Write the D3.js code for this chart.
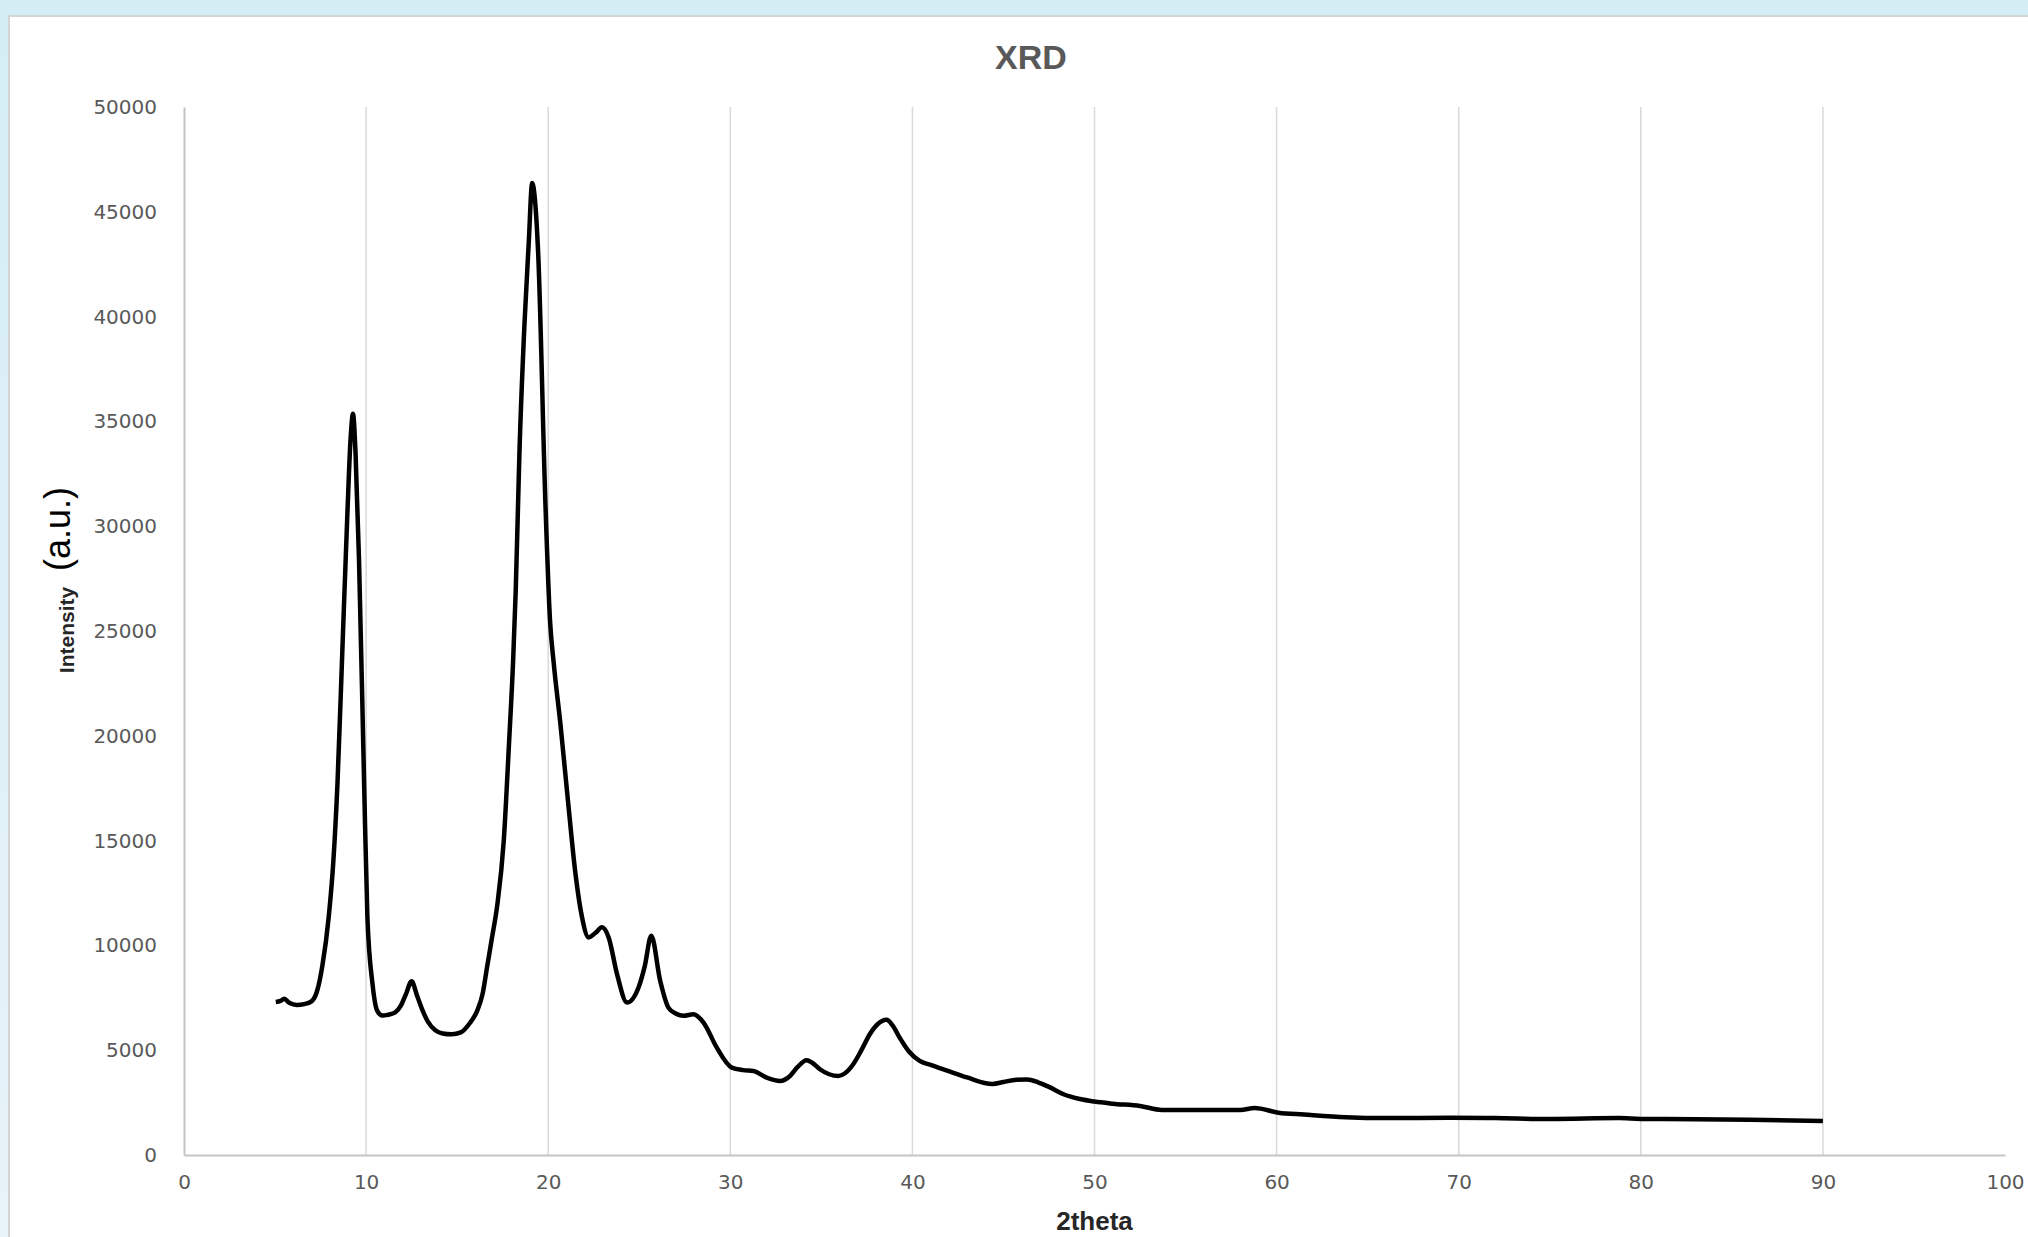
<!DOCTYPE html>
<html>
<head>
    <meta charset="utf-8">
    <title>XRD</title>
    <script src="https://cdn.jsdelivr.net/npm/d3@7"></script>
    <style>
        body { margin: 0; overflow: hidden; }
        #chart { display: block; }
    </style>
</head>
<body>
    <svg id="chart" width="2028" height="1237"></svg>

    <script>
        // values
        var chartTitle = "XRD";
        var xTitle = "2theta";
        var yTitle = "Intensity";
        var yUnit = "(a.u.)";

        var xTicks = [0, 10, 20, 30, 40, 50, 60, 70, 80, 90, 100];
        var yTicks = [0, 5000, 10000, 15000, 20000, 25000, 30000, 35000, 40000, 45000, 50000];
        var gridTicks = [10, 20, 30, 40, 50, 60, 70, 80, 90];

        var twoTheta = [5.04, 5.3, 5.5, 5.8, 6.2, 6.6, 7.0, 7.3, 7.6, 7.95,
            8.2, 8.43, 8.7, 8.97, 9.15, 9.28, 9.42, 9.61, 9.89, 10.07,
            10.35, 10.6, 10.9, 11.2, 11.6, 11.9, 12.2, 12.5, 12.8, 13.1,
            13.4, 13.8, 14.2, 14.7, 15.2, 15.7, 16.1, 16.4, 16.65, 16.9,
            17.2, 17.56, 17.84, 18.07, 18.22, 18.42, 18.7, 18.93, 19.12, 19.27,
            19.45, 19.85, 20.1, 20.3, 20.67, 21.12, 21.5, 21.86, 22.22, 22.6,
            22.95, 23.32, 23.78, 24.33, 24.96, 25.3, 25.66, 26.15, 26.6, 27.0,
            27.43, 27.98, 28.53, 29.26, 30.08, 30.7, 31.27, 32.0, 32.73, 33.28,
            33.7, 34.19, 34.5, 34.92, 35.93, 36.3, 36.75, 37.2, 37.66, 38.1,
            38.58, 38.9, 39.3, 39.8, 40.4, 41.0, 42.0, 43.0, 44.4, 45.0,
            45.7, 46.3, 46.9, 47.5, 48.3, 49.2, 50.0, 51.0, 52.5, 53.7,
            55.0, 56.5, 58.0, 58.8, 60.1, 61.5, 63.8, 66.0, 69.5, 72.0,
            75.0, 78.8, 80.0, 83.0, 86.0, 90.0];

        var intensity = [7300, 7350, 7450, 7250, 7160, 7200, 7330, 7800, 9040, 11380,
            14000, 17770, 24170, 30560, 34200, 35360, 33500, 28430, 17770, 11380,
            8180, 6900, 6650, 6690, 6800, 7110, 7700, 8290, 7600, 6900,
            6350, 5950, 5800, 5760, 5850, 6300, 6880, 7700, 9000, 10300,
            11900, 15000, 19500, 23500, 27000, 33500, 39700, 43500, 46370, 45600,
            43000, 31000, 25500, 23500, 20570, 16590, 13400, 11330, 10380, 10600,
            10860, 10380, 8630, 7270, 7990, 9000, 10460, 8310, 7030, 6750,
            6640, 6720, 6320, 5120, 4170, 4050, 4010, 3690, 3530, 3770,
            4200, 4520, 4400, 4090, 3770, 3900, 4330, 5000, 5760, 6250,
            6450, 6200, 5600, 4950, 4490, 4300, 4000, 3700, 3390, 3480,
            3590, 3600, 3470, 3250, 2900, 2670, 2550, 2450, 2340, 2150,
            2150, 2150, 2150, 2240, 2020, 1930, 1800, 1760, 1780, 1760,
            1720, 1760, 1720, 1710, 1680, 1620];

        var svg = d3.select("#chart"),
            width = +svg.attr("width"),
            height = +svg.attr("height");

        // slide background behind the chart box
        var defs = svg.append("defs");
        var bg = defs.append("linearGradient")
            .attr("id", "bgGrad")
            .attr("x1", 0).attr("y1", 0)
            .attr("x2", 0).attr("y2", 1);
        bg.append("stop").attr("offset", "0%").attr("stop-color", "#d4edf5");
        bg.append("stop").attr("offset", "100%").attr("stop-color", "#e8f3f9");

        svg.append("rect")
            .attr("width", width)
            .attr("height", height)
            .attr("fill", "url(#bgGrad)");

        svg.append("rect")
            .attr("x", 9)
            .attr("y", 16)
            .attr("width", 2200)
            .attr("height", 1400)
            .attr("fill", "#ffffff")
            .attr("stroke", "#d4d4d4")
            .attr("stroke-width", 2);

        // plot area (names avoid window.top etc.)
        var plotLeft = 184, plotRight = 2005, plotTop = 107, plotBottom = 1155;

        var x = d3.scaleLinear().domain([0, 100]).range([plotLeft, plotRight]);
        var y = d3.scaleLinear().domain([0, 50000]).range([plotBottom, plotTop]);

        // vertical gridlines
        svg.append("g")
            .selectAll("line")
            .data(gridTicks)
            .enter()
            .append("line")
            .attr("x1", function(d) { return x(d); })
            .attr("x2", function(d) { return x(d); })
            .attr("y1", plotTop)
            .attr("y2", plotBottom)
            .attr("stroke", "#d9d9d9")
            .attr("stroke-width", 1.5);

        // axes
        var xAxis = svg.append("g")
            .attr("transform", "translate(0," + plotBottom + ")")
            .call(d3.axisBottom(x).tickValues(xTicks).tickSize(0).tickSizeOuter(0).tickPadding(20));

        var yAxis = svg.append("g")
            .attr("transform", "translate(" + plotLeft + ",0)")
            .call(d3.axisLeft(y).tickValues(yTicks).tickFormat(d3.format("d"))
                .tickSize(0).tickSizeOuter(0).tickPadding(27));

        [xAxis, yAxis].forEach(function(ax) {
            ax.select(".domain")
              .attr("stroke", "#c4c4c4")
              .attr("stroke-width", 2);
            ax.selectAll("text")
              .attr("fill", "#595959")
              .style("font-family", "'DejaVu Sans', sans-serif")
              .style("font-size", "20px");
        });

        // the scan
        var line = d3.line()
            .x(function(d, i) { return x(twoTheta[i]); })
            .y(function(d) { return y(d); })
            .curve(d3.curveMonotoneX);

        svg.append("path")
            .datum(intensity)
            .attr("d", line)
            .attr("fill", "none")
            .attr("stroke", "#000000")
            .attr("stroke-width", 4.5)
            .attr("stroke-linejoin", "round");

        // titles
        svg.append("text")
            .attr("x", 1031)
            .attr("y", 69)
            .attr("text-anchor", "middle")
            .attr("fill", "#595959")
            .style("font-family", "'Liberation Sans', Arial, sans-serif")
            .style("font-weight", "bold")
            .style("font-size", "34px")
            .text(chartTitle);

        svg.append("text")
            .attr("x", (plotLeft + plotRight) / 2)
            .attr("y", 1230)
            .attr("text-anchor", "middle")
            .attr("fill", "#262626")
            .style("font-family", "'Liberation Sans', Arial, sans-serif")
            .style("font-weight", "bold")
            .style("font-size", "26px")
            .text(xTitle);

        svg.append("text")
            .attr("transform", "translate(74,630) rotate(-90)")
            .attr("text-anchor", "middle")
            .attr("fill", "#262626")
            .style("font-family", "'Liberation Sans', Arial, sans-serif")
            .style("font-weight", "bold")
            .style("font-size", "21px")
            .text(yTitle);

        svg.append("text")
            .attr("transform", "translate(70,529) rotate(-90)")
            .attr("text-anchor", "middle")
            .attr("fill", "#000000")
            .style("font-family", "'Liberation Sans', Arial, sans-serif")
            .style("font-size", "36px")
            .text(yUnit);
    </script>
</body>
</html>
